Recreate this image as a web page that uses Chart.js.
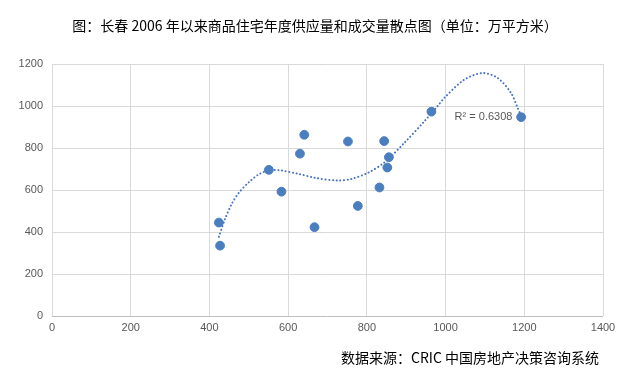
<!DOCTYPE html>
<html><head><meta charset="utf-8">
<script src="https://cdn.jsdelivr.net/npm/chart.js@4/dist/chart.umd.min.js"></script>
<style>
html,body{margin:0;padding:0;background:#fff;}
#wrap{position:relative;width:630px;height:377px;overflow:hidden;}
#title{position:absolute;left:0;width:630px;top:15px;text-align:center;font:14px "Noto Sans CJK SC",sans-serif;color:#000;line-height:20px;}
#src{position:absolute;right:31px;top:347px;font:14px "Noto Sans CJK SC",sans-serif;color:#000;line-height:20px;}
canvas{position:absolute;left:0;top:0;}
</style></head><body>
<div id="wrap">
<canvas id="c" width="630" height="377"></canvas>
<div id="title">图：长春 2006 年以来商品住宅年度供应量和成交量散点图（单位：万平方米）</div>
<div id="src">数据来源：CRIC 中国房地产决策咨询系统</div>
</div>
<script>
// supply (x) vs transaction (y), 万平方米
const supplyX = [424, 427, 551, 583, 630, 641, 667, 752, 777, 832, 844, 852, 856, 964, 1192];
const dealY   = [445, 335, 696, 592, 773, 863, 423, 831, 524, 612, 833, 707, 756, 973, 947];
// trendline
const trendX = [424, 440, 457, 474, 500, 525, 550, 578, 626, 668, 727, 761, 803, 845, 896, 947, 980, 997, 1048, 1094, 1132, 1166, 1183, 1192];
const trendY = [377, 464, 535, 585, 637, 674, 693, 694, 677, 658, 645, 653, 682, 732, 826, 929, 1000, 1039, 1126, 1157, 1134, 1063, 992, 953];
const xTicks = [0, 200, 400, 600, 800, 1000, 1200, 1400];
const yTicks = [0, 200, 400, 600, 800, 1000, 1200];
const r2Label = 'R² = 0.6308';
const r2Pos = {x: 1023, y: 948};

const pts = supplyX.map((x, i) => ({x, y: dealY[i]}));
const trend = trendX.map((x, i) => ({x, y: trendY[i]}));

const r2Plugin = {
  id: 'r2',
  afterDatasetsDraw(chart) {
    const ctx = chart.ctx;
    const px = chart.scales.x.getPixelForValue(r2Pos.x);
    const py = chart.scales.y.getPixelForValue(r2Pos.y);
    ctx.save();
    ctx.font = '11px "Liberation Sans", Arial, sans-serif';
    ctx.fillStyle = '#595959';
    ctx.textAlign = 'left';
    ctx.textBaseline = 'middle';
    ctx.fillText(r2Label, px, py);
    ctx.restore();
  }
};

const tickFont = {size: 11, family: '"Liberation Sans", Arial, sans-serif'};

new Chart(document.getElementById('c'), {
  type: 'scatter',
  data: {
    datasets: [
      {
        type: 'scatter',
        data: pts,
        backgroundColor: '#4A7EBF',
        borderColor: '#4A7EBF',
        pointRadius: 4.4,
        pointHoverRadius: 4.4,
        order: 1
      },
      {
        type: 'line',
        data: trend,
        borderColor: '#4472C4',
        borderWidth: 2,
        borderDash: [0.1, 3.6],
        borderCapStyle: 'round',
        pointRadius: 0,
        fill: false,
        tension: 0.3,
        order: 2
      }
    ]
  },
  options: {
    responsive: false,
    animation: false,
    devicePixelRatio: 1,
    layout: {padding: {left: 0, top: 64, right: 27, bottom: 31}},
    plugins: {legend: {display: false}, tooltip: {enabled: false}},
    scales: {
      x: {
        type: 'linear', min: 0, max: 1400,
        afterBuildTicks: s => { s.ticks = xTicks.map(v => ({value: v})); },
        afterFit: s => { s.height = 30; },
        ticks: {color: '#595959', font: tickFont, padding: 5, callback: v => String(v)},
        grid: {color: '#d9d9d9', lineWidth: 1, drawTicks: false},
        border: {display: false}
      },
      y: {
        type: 'linear', min: 0, max: 1200,
        afterBuildTicks: s => { s.ticks = yTicks.map(v => ({value: v})); },
        afterFit: s => { s.width = 52; },
        ticks: {color: '#595959', font: tickFont, padding: 9, callback: v => String(v)},
        grid: {color: ctx => ctx.tick && ctx.tick.value === 0 ? '#bfbfbf' : '#d9d9d9', lineWidth: 1, drawTicks: false},
        border: {display: false}
      }
    }
  },
  plugins: [r2Plugin]
});
</script>
</body></html>
